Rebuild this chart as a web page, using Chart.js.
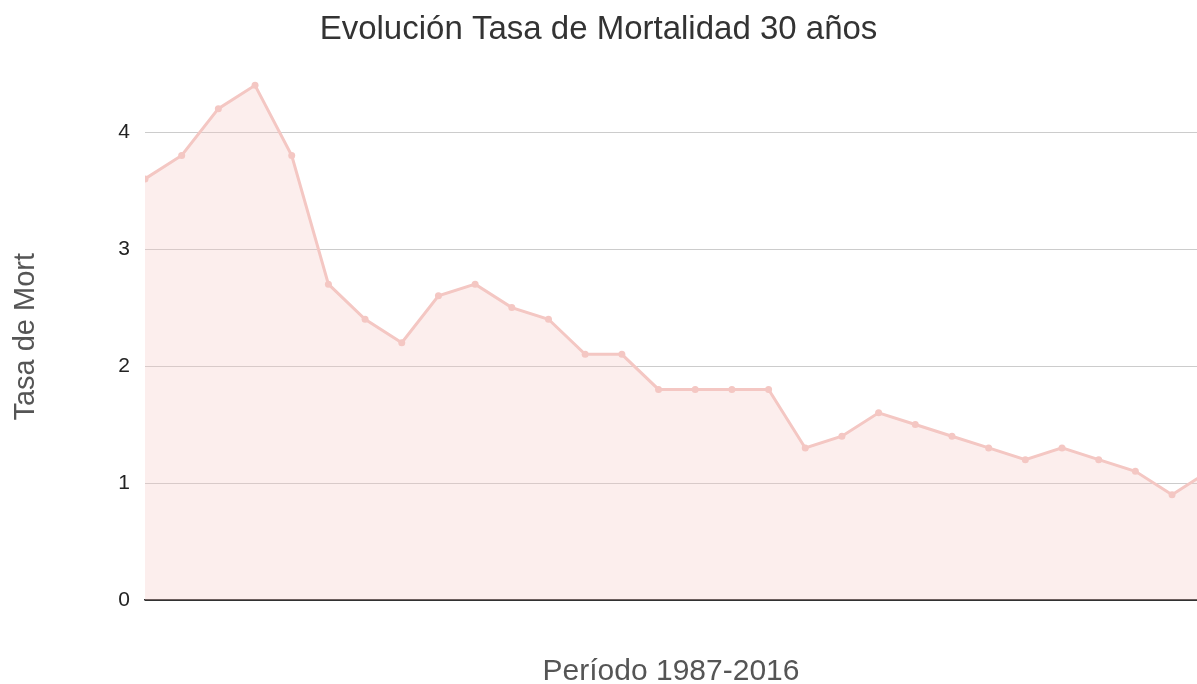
<!DOCTYPE html>
<html>
<head>
<meta charset="utf-8">
<script src="https://cdn.jsdelivr.net/npm/chart.js@4/dist/chart.umd.min.js"></script>
<style>
  html, body { margin: 0; padding: 0; background: #fff; overflow: hidden; }
  #wrap { width: 1197px; height: 684px; position: relative; }
</style>
</head>
<body>
<div id="wrap"><canvas id="mortChart"></canvas></div>
<script>
// Period 1987-2016, one value per year
const years = [1987, 1988, 1989, 1990, 1991, 1992, 1993, 1994, 1995, 1996,
               1997, 1998, 1999, 2000, 2001, 2002, 2003, 2004, 2005, 2006,
               2007, 2008, 2009, 2010, 2011, 2012, 2013, 2014, 2015, 2016];
const tasaMort = [3.6, 3.8, 4.2, 4.4, 3.8, 2.7, 2.4, 2.2, 2.6, 2.7,
                  2.5, 2.4, 2.1, 2.1, 1.8, 1.8, 1.8, 1.8, 1.3, 1.4,
                  1.6, 1.5, 1.4, 1.3, 1.2, 1.3, 1.2, 1.1, 0.9, 1.1];
const yTicks = [0, 1, 2, 3, 4];

const chartTitle = 'Evolución Tasa de Mortalidad 30 años';
const xTitle = 'Período 1987-2016';
const yTitle = 'Tasa de Mort';

const lineColor = '#f4c7c3';
const fillColor = 'rgba(244, 199, 195, 0.3)';
const fontFamily = '"Liberation Sans", Arial, sans-serif';

const points = years.map((yr, i) => ({ x: yr, y: tasaMort[i] }));

const ctx = document.getElementById('mortChart').getContext('2d');
new Chart(ctx, {
    type: 'line',
    data: {
        datasets: [{
            label: yTitle,
            data: points,
            borderColor: lineColor,
            backgroundColor: fillColor,
            fill: 'origin',
            borderWidth: 3,
            pointRadius: 3.5,
            pointBackgroundColor: lineColor,
            pointBorderColor: lineColor,
            pointBorderWidth: 0,
            tension: 0
        }]
    },
    options: {
        responsive: true,
        maintainAspectRatio: false,
        animation: false,
        layout: { autoPadding: false, padding: 0 },
        plugins: {
            legend: { display: false },
            tooltip: { enabled: false },
            title: {
                display: true,
                text: chartTitle,
                color: '#333',
                font: { family: fontFamily, size: 33, weight: 'normal', lineHeight: 1.2 },
                padding: { top: 10, bottom: 24 }
            }
        },
        scales: {
            x: {
                type: 'linear',
                min: years[0],
                max: 2015.68,
                grid: { display: false, drawTicks: false },
                border: { display: true, color: '#333', width: 1.5 },
                ticks: { display: false },
                title: {
                    display: true,
                    text: xTitle,
                    color: '#555',
                    font: { family: fontFamily, size: 30, lineHeight: 1 },
                    padding: { top: 0, bottom: -3 }
                },
                afterFit: (scale) => { scale.height = 84; }
            },
            y: {
                min: 0,
                max: 4.5,
                afterBuildTicks: (axis) => {
                    axis.ticks = yTicks.map(v => ({ value: v }));
                },
                grid: {
                    color: (c) => c.tick && c.tick.value === 0 ? '#333' : '#cccccc',
                    lineWidth: 1,
                    drawTicks: false
                },
                border: { display: false },
                ticks: {
                    color: '#222',
                    padding: 15,
                    font: { family: fontFamily, size: 21 }
                },
                title: {
                    display: true,
                    text: yTitle,
                    color: '#555',
                    font: { family: fontFamily, size: 29 },
                    padding: { top: 9, bottom: 0 }
                },
                afterFit: (scale) => { scale.width = 145; }
            }
        }
    }
});
</script>
</body>
</html>
